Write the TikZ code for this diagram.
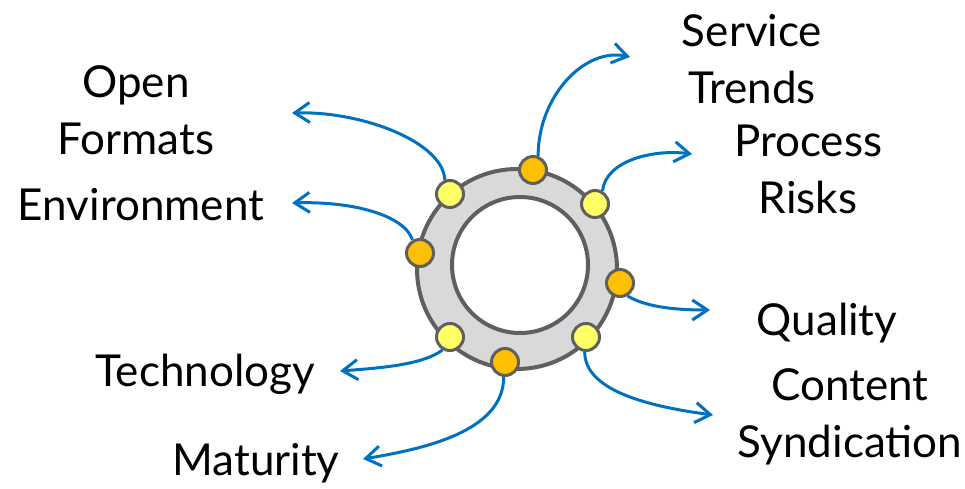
\documentclass[tikz,border=0pt]{standalone}
\usepackage{fontspec}
\setmainfont{Lato}
\usetikzlibrary{arrows.meta}
\definecolor{arrowblue}{HTML}{0070C0}
\definecolor{dotorange}{HTML}{FFC000}
\definecolor{dotyellow}{HTML}{FFFF66}
\definecolor{ringgray}{HTML}{D9D9D9}
\definecolor{edgegray}{HTML}{5F5F5F}
\tikzset{
  dotnode/.style={circle, draw=edgegray, line width=3pt, minimum size=27pt, inner sep=0pt},
  orangedot/.style={dotnode, fill=dotorange},
  yellowdot/.style={dotnode, fill=dotyellow},
  conn/.style={draw=arrowblue, line width=3pt, -{Straight Barb[length=15pt, width=20pt, line width=3pt]}},
  lbl/.style={font=\fontsize{44}{57}\selectfont, align=center, anchor=base, inner sep=0pt}
}
\begin{document}
\begin{tikzpicture}[x=1pt, y=-1pt]
\path[use as bounding box] (0,0) rectangle (965,489);
% ring
\draw[edgegray, line width=4pt, fill=ringgray] (517,269) circle (100);
\draw[edgegray, line width=4pt, fill=white] (520,265) circle (68);
% dots
\node[yellowdot] (d1) at (450,194) {};
\node[orangedot] (d2) at (420,253) {};
\node[orangedot] (d3) at (533,170) {};
\node[yellowdot] (d4) at (595,204) {};
\node[orangedot] (d5) at (620,283) {};
\node[yellowdot] (d6) at (586,337) {};
\node[yellowdot] (d7) at (450,337) {};
\node[orangedot] (d8) at (505,362) {};
% arrow ends
\coordinate (e1) at (292,113);
\coordinate (e2) at (292,203);
\coordinate (e3) at (630,57);
\coordinate (e4) at (692,154);
\coordinate (e5) at (710,310);
\coordinate (e6) at (713,415);
\coordinate (e7) at (340,371);
\coordinate (e8) at (363,459);
% connectors
\draw[conn] (d1.110) .. controls +(-2,-38) and +(70,-2) .. (e1);
\draw[conn] (d2.120) .. controls +(-8,-25) and +(60,-2) .. (e2);
\draw[conn] (d3.70) .. controls +(0,-60) and +(-45,-10) .. (e3);
\draw[conn] (d4.60) .. controls +(3,-30) and +(-40,-5) .. (e4);
\draw[conn] (d5.-60) .. controls +(20,12) and +(-30,0) .. (e5);
\draw[conn] (d6.-95) .. controls +(0,40) and +(-60,-8) .. (e6);
\draw[conn] (d7.-120) .. controls +(-20,15) and +(40,-3) .. (e7);
\draw[conn] (d8.-95) .. controls +(0,55) and +(60,-10) .. (e8);
% labels (base = baseline of last line)
\node[lbl] (l1) at (136,155) {Open\\Formats};
\node[lbl] (l2) at (141,220) {Environment};
\node[lbl] (l3) at (752,104) {Service\\Trends};
\node[lbl] (l4) at (808,213) {Process\\Risks};
\node[lbl] (l5) at (827,335) {Quality};
\node[lbl] (l6) at (850,457) {Content\\Syndication};
\node[lbl] (l7) at (205,386) {Technology};
\node[lbl] (l8) at (256,475) {Maturity};
\end{tikzpicture}
\end{document}
